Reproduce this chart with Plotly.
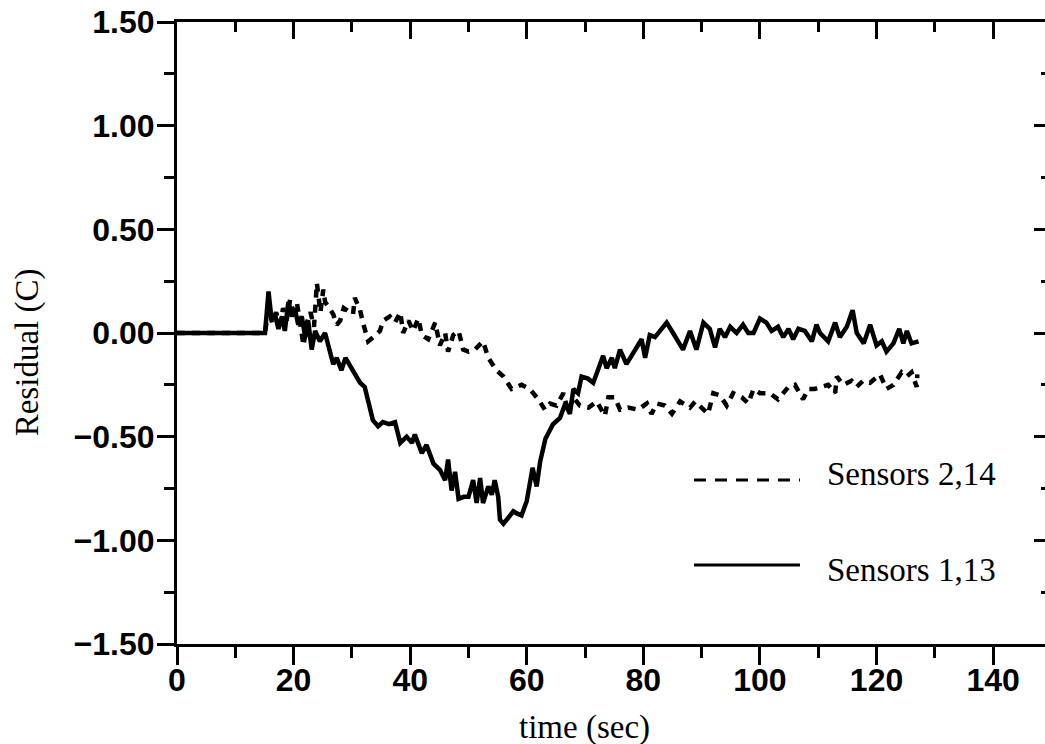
import plotly.graph_objects as go

# ---- data ----
t_s113 = [0, 15.1, 15.7, 16.2, 16.8, 17.4, 18.0, 18.5, 19.1, 19.7,
          20.2, 20.8, 21.4, 22.0, 22.5, 23.1, 23.7, 24.5, 25.4, 26.2,
          26.8, 27.4, 28.2, 28.9, 30.2, 31.4, 32.2, 32.8, 33.6, 34.5,
          35.3, 36.4, 37.4, 38.3, 39.4, 40.3, 40.8, 42.0, 42.8, 44.0,
          45.1, 46.0, 46.5, 47.1, 47.7, 48.3, 49.2, 50.0, 50.8, 51.4,
          52.0, 52.5, 53.4, 54.0, 54.5, 55.1, 55.4, 56.0, 56.8, 57.7,
          58.3, 59.1, 60.0, 61.0, 61.7, 62.3, 63.2, 64.5, 65.7, 66.6,
          67.4, 68.0, 68.8, 69.4, 70.5, 71.4, 72.2, 73.1, 73.7, 74.6,
          75.1, 76.0, 77.1, 78.2, 79.7, 80.3, 81.1, 82.0, 82.8, 84.0,
          85.1, 86.8, 88.0, 89.1, 90.3, 91.4, 92.3, 93.1, 94.0, 94.9,
          96.0, 97.1, 98.0, 98.9, 100.0, 101.1, 102.0, 103.1, 104.0, 104.9,
          105.7, 106.6, 107.7, 108.9, 109.7, 110.3, 111.7, 112.9, 113.7, 114.9,
          115.9, 116.6, 117.8, 118.9, 120.0, 120.9, 121.7, 122.9, 123.9, 124.6,
          125.2, 126.0, 127.2]
r_s113 = [0, 0, 0.20, 0.07, 0.09, 0.02, 0.08, 0.01, 0.15, 0.08,
          0.12, 0.04, 0.08, -0.02, 0.06, -0.08, 0.01, -0.04, 0.00, -0.08,
          -0.15, -0.12, -0.18, -0.12, -0.18, -0.24, -0.26, -0.33, -0.42, -0.45,
          -0.43, -0.44, -0.43, -0.53, -0.50, -0.53, -0.49, -0.58, -0.54, -0.63,
          -0.66, -0.71, -0.61, -0.76, -0.67, -0.80, -0.79, -0.79, -0.71, -0.82,
          -0.70, -0.82, -0.74, -0.78, -0.71, -0.79, -0.90, -0.92, -0.89, -0.86,
          -0.87, -0.88, -0.81, -0.65, -0.74, -0.62, -0.51, -0.44, -0.41, -0.34,
          -0.39, -0.27, -0.29, -0.21, -0.22, -0.24, -0.18, -0.11, -0.17, -0.12,
          -0.17, -0.08, -0.15, -0.10, -0.03, -0.12, -0.01, -0.02, 0.01, 0.05,
          0.00, -0.08, 0.01, -0.08, 0.05, 0.02, -0.07, 0.02, -0.02, 0.03,
          0.00, 0.04, 0.00, 0.00, 0.07, 0.05, 0.01, 0.03, -0.02, 0.02,
          -0.03, 0.02, 0.01, -0.04, 0.04, 0.00, -0.04, 0.05, -0.02, 0.03,
          0.11, 0.00, -0.05, 0.04, -0.06, -0.04, -0.09, -0.05, 0.02, -0.05,
          0.01, -0.05, -0.04]

t_s214 = [0, 15.1, 15.7, 16.3, 17.0, 17.6, 18.2, 18.8, 19.4, 20.0,
          20.6, 21.2, 21.7, 22.3, 22.9, 23.5, 24.0, 24.3, 24.6, 25.1,
          25.4, 25.9, 26.8, 27.4, 28.0, 28.6, 29.1, 30.2, 30.5, 31.4,
          32.0, 32.8, 33.7, 34.8, 35.4, 36.5, 37.4, 38.3, 38.8, 39.7,
          40.5, 41.4, 42.0, 43.1, 44.3, 45.1, 46.0, 46.5, 47.4, 48.3,
          49.1, 50.0, 51.1, 52.5, 53.4, 54.8, 56.0, 57.4, 59.1, 60.5,
          62.0, 63.1, 64.0, 65.1, 66.3, 67.1, 68.0, 69.1, 70.6, 72.0,
          72.6, 73.4, 74.0, 75.1, 76.0, 77.4, 79.1, 80.6, 81.4, 82.3,
          83.7, 84.9, 86.3, 88.0, 88.9, 90.3, 91.1, 92.0, 93.1, 94.3,
          95.4, 96.9, 98.0, 98.9, 100.0, 101.7, 103.1, 104.9, 106.0, 107.4,
          108.3, 109.4, 110.6, 111.7, 112.9, 113.2, 114.3, 115.7, 116.6, 117.7,
          118.9, 120.0, 120.6, 121.7, 122.9, 124.3, 125.2, 126.0, 126.9, 127.0]
r_s214 = [0, 0, 0.12, 0.05, 0.10, 0.04, 0.12, 0.06, 0.16, 0.10,
          0.14, 0.04, -0.06, 0.05, 0.10, 0.03, 0.24, 0.17, 0.10, 0.21,
          0.15, 0.13, 0.09, 0.04, 0.06, 0.12, 0.11, 0.09, 0.17, 0.11,
          0.04, -0.04, -0.02, 0.01, 0.06, 0.08, 0.05, 0.10, 0.00, 0.06,
          0.01, 0.07, -0.01, -0.03, 0.05, -0.06, 0.00, -0.09, -0.01, 0.01,
          -0.08, -0.09, -0.08, -0.04, -0.12, -0.18, -0.21, -0.27, -0.25, -0.27,
          -0.32, -0.37, -0.34, -0.35, -0.29, -0.38, -0.31, -0.35, -0.36, -0.33,
          -0.36, -0.40, -0.31, -0.31, -0.37, -0.36, -0.37, -0.34, -0.39, -0.34,
          -0.35, -0.39, -0.33, -0.36, -0.33, -0.37, -0.39, -0.29, -0.30, -0.35,
          -0.29, -0.31, -0.34, -0.27, -0.29, -0.29, -0.32, -0.26, -0.25, -0.32,
          -0.27, -0.27, -0.26, -0.25, -0.29, -0.21, -0.25, -0.23, -0.26, -0.23,
          -0.24, -0.21, -0.20, -0.27, -0.25, -0.19, -0.21, -0.19, -0.26, -0.20]

x_ticks = [0, 20, 40, 60, 80, 100, 120, 140]
y_ticks = [1.5, 1.0, 0.5, 0.0, -0.5, -1.0, -1.5]
series_names = ["Sensors 2,14", "Sensors 1,13"]
x_title = "time (sec)"
y_title = "Residual (C)"

X_RANGE = [0, 148.9]
Y_RANGE = [-1.5, 1.5]

TICK_FONT = dict(family="Liberation Sans, Arial, sans-serif", size=32, color="black",
                 weight="bold")
SERIF = "Liberation Serif, Times New Roman, serif"

fig = go.Figure()
fig.add_trace(go.Scatter(x=t_s214, y=r_s214, mode="lines", name=series_names[0],
                         line=dict(color="black", width=4.5, dash="8px,7px"),
                         showlegend=False))
fig.add_trace(go.Scatter(x=t_s113, y=r_s113, mode="lines", name=series_names[1],
                         line=dict(color="black", width=4.5),
                         showlegend=False))
# placeholder trace so the mirrored (top/right) axes are created
fig.add_trace(go.Scatter(x=[], y=[], xaxis="x2", yaxis="y2", showlegend=False,
                         hoverinfo="skip"))

common = dict(showgrid=False, zeroline=False, linecolor="black", tickcolor="black",
              tickwidth=3, automargin=False)

fig.update_layout(
    width=1045, height=744,
    margin=dict(l=177, r=0, t=22, b=100),
    paper_bgcolor="white", plot_bgcolor="white",
    xaxis=dict(range=X_RANGE, showline=True, linewidth=3, ticks="outside", ticklen=18,
               tickvals=x_ticks, ticktext=[str(v) for v in x_ticks], tickfont=TICK_FONT,
               ticklabelstandoff=-12,
               minor=dict(ticks="outside", ticklen=11, dtick=10, tick0=0, tickwidth=3,
                          tickcolor="black"),
               **common),
    yaxis=dict(range=Y_RANGE, showline=True, linewidth=3, ticks="outside", ticklen=17,
               tickvals=y_ticks, tickformat=".2f", tickfont=TICK_FONT,
               ticklabelstandoff=-4,
               minor=dict(ticks="outside", ticklen=10, dtick=0.25, tick0=0, tickwidth=3,
                          tickcolor="black"),
               **common),
    xaxis2=dict(range=X_RANGE, overlaying="x", side="top", anchor="y", showline=True,
                linewidth=3, ticks="inside", ticklen=17, tickvals=x_ticks,
                showticklabels=False,
                minor=dict(ticks="inside", ticklen=10, dtick=10, tick0=0, tickwidth=3,
                           tickcolor="black"),
                **common),
    yaxis2=dict(range=Y_RANGE, overlaying="y", side="right", anchor="x", showline=False,
                ticks="inside", ticklen=11, tickvals=y_ticks, showticklabels=False,
                minor=dict(ticks="inside", ticklen=4, dtick=0.25, tick0=0, tickwidth=3,
                           tickcolor="black"),
                **common),
)

# axis titles
fig.add_annotation(x=-0.1728, y=0.469, xref="paper", yref="paper", text=y_title,
                   textangle=-90, showarrow=False, xanchor="center", yanchor="middle",
                   font=dict(family=SERIF, size=33, color="black"))
fig.add_annotation(x=0.469, y=-0.134, xref="paper", yref="paper", text=x_title,
                   showarrow=False, xanchor="center", yanchor="middle",
                   font=dict(family=SERIF, size=33, color="black"))

# legend drawn as line samples with labels
fig.add_shape(type="line", xref="paper", yref="paper", x0=0.5956, x1=0.7177,
              y0=0.2637, y1=0.2637, line=dict(color="black", width=3, dash="12px,9px"))
fig.add_shape(type="line", xref="paper", yref="paper", x0=0.5956, x1=0.7177,
              y0=0.127, y1=0.127, line=dict(color="black", width=3))
fig.add_annotation(x=0.7465, y=0.273, xref="paper", yref="paper", text=series_names[0],
                   showarrow=False, xanchor="left", yanchor="middle",
                   font=dict(family=SERIF, size=33, color="black"))
fig.add_annotation(x=0.7465, y=0.119, xref="paper", yref="paper", text=series_names[1],
                   showarrow=False, xanchor="left", yanchor="middle",
                   font=dict(family=SERIF, size=33, color="black"))

fig.write_html("out.html")
